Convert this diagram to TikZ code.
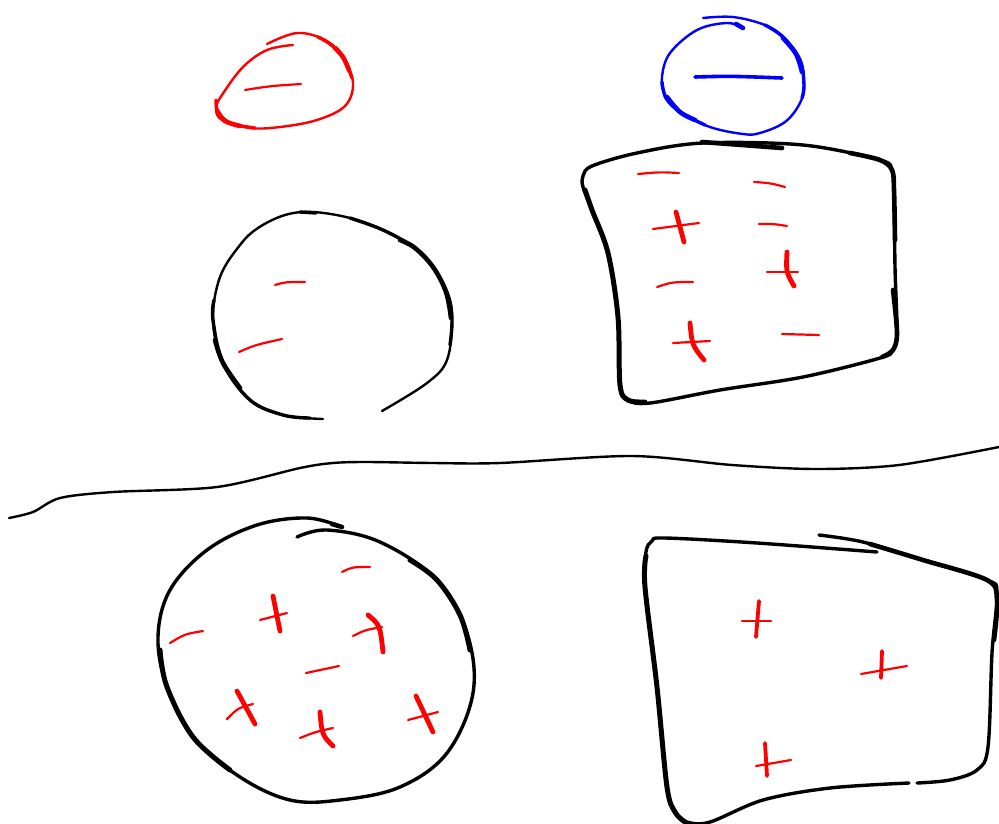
\documentclass[tikz,border=0pt]{standalone}
\begin{document}
\begin{tikzpicture}[x=1pt,y=-1pt,line cap=round,line join=round,
  pen/.style={line width=2.4pt},
  mid/.style={line width=3.4pt},
  heavy/.style={line width=4.6pt},
  ink/.style={black},
  redpen/.style={red,line width=2.2pt},
  redbar/.style={red,line width=4.8pt},
  bluepen/.style={blue}]
\useasboundingbox (0,0) rectangle (999,823);

% ---------- red small circle (top left) ----------
\draw[red,pen] plot[smooth,tension=0.6] coordinates {(267,44) (297,33) (325,40) (343,57) (353,83) (345,106) (317,120) (280,127) (250,128) (222,120) (216,108) (222,95) (243,67) (267,50) (293,45)};
\draw[red,mid] plot[smooth,tension=0.6] coordinates {(318,37) (330,44) (343,57) (352,78)};
\draw[red,heavy] plot[smooth,tension=0.6] coordinates {(335,48) (343,57) (349,70)};
\draw[red,mid] plot[smooth,tension=0.6] coordinates {(216,100) (218,112) (230,123) (255,128)};
\draw[red,heavy] plot[smooth,tension=0.6] coordinates {(218,112) (225,121) (240,126)};
\draw[redpen] (245,90) .. controls (270,86) .. (301,84);

% ---------- blue circle (top right) ----------
\draw[bluepen,pen] plot[smooth,tension=0.6] coordinates {(703,18) (733,17) (765,25) (783,37) (800,60) (804,85) (800,103) (785,122) (760,133) (743,134) (710,127) (680,112) (665,95) (662,77) (670,53) (697,30) (727,23) (743,28)};
\draw[blue,mid] plot[smooth,tension=0.6] coordinates {(765,25) (783,37) (800,60) (804,85) (802,98)};
\draw[blue,heavy] plot[smooth,tension=0.6] coordinates {(783,38) (796,54) (802,72)};
\draw[blue,mid] plot[smooth,tension=0.6] coordinates {(662,82) (666,98) (680,112) (705,125)};
\draw[blue,heavy] plot[smooth,tension=0.6] coordinates {(667,97) (680,112) (695,120)};
\draw[blue,heavy] (736,24) -- (743,28);
\draw[blue,line width=3.6pt] (695,77) .. controls (730,76) .. (782,78);

% ---------- black circle (top left) ----------
\draw[ink,pen] plot[smooth,tension=0.6] coordinates {(323,419) (283,415) (250,400) (223,363) (213,320) (220,277) (240,245) (258,228) (285,215) (313,212) (350,218) (383,230) (415,248) (433,267) (448,295) (452,320) (447,360) (427,383) (382,411)};
\draw[ink,mid] plot[smooth,tension=0.6] coordinates {(350,218) (383,230) (415,248) (433,267) (448,295) (452,320) (450,345)};
\draw[ink,heavy] plot[smooth,tension=0.6] coordinates {(400,240) (415,248) (433,267) (446,292) (451,318)};
\draw[ink,mid] plot[smooth,tension=0.6] coordinates {(214,300) (213,320) (223,363) (250,400) (283,415) (310,418)};
\draw[ink,heavy] plot[smooth,tension=0.6] coordinates {(215,340) (223,363) (240,388)};
\draw[ink,mid] (300,212) -- (316,213);

\draw[redpen] (275,285) .. controls (285,282) .. (305,282);
\draw[redpen] (239,352) .. controls (255,345) .. (282,339);

% ---------- black box (top right) ----------
\draw[ink,mid] plot[smooth cycle,tension=0.55] coordinates {(592,166) (637,153) (703,143) (803,145) (880,160) (892,170) (894,190) (895,267) (897,333) (893,350) (880,358) (803,377) (720,390) (650,403) (628,400) (620,385) (618,317) (608,253) (592,210) (583,187) (583,176)};
\draw[ink,line width=5pt] plot[smooth,tension=0.55] coordinates {(645,402) (628,400) (620,385) (618,317) (608,253) (592,210) (585,190)};
\draw[ink,heavy] plot[smooth,tension=0.55] coordinates {(850,153) (880,160) (892,170) (894,190) (895,240)};
\draw[ink,heavy] plot[smooth,tension=0.55] coordinates {(893,290) (897,333) (893,350) (882,357)};
\draw[ink,heavy] (702,142) -- (782,148);
% charges
\draw[redpen] (638,174) .. controls (660,172) .. (679,173);
\draw[redpen] (754,182) .. controls (770,183) .. (785,187);
\draw[redpen] (653,229) -- (699,223);
\draw[redbar] (676,212) -- (684,242);
\draw[redpen] (759,224) .. controls (775,224) .. (787,226);
\draw[redpen] (767,272) -- (798,272);
\draw[redbar] (787,252) .. controls (786,272) .. (794,286);
\draw[redpen] (657,287) .. controls (672,282) .. (693,282);
\draw[redpen] (673,343) -- (710,341);
\draw[redbar] (690,323) .. controls (692,345) .. (704,360);
\draw[redpen] (782,334) -- (819,335);

% ---------- dividing line ----------
\draw[ink,pen] plot[smooth,tension=0.5] coordinates {(9,518) (33,512) (60,498) (113,492) (217,487) (300,468) (333,463) (367,462) (433,463) (500,463) (632,456) (732,465) (816,469) (899,465) (999,447)};

% ---------- black circle (bottom left) ----------
\draw[ink,mid] plot[smooth,tension=0.6] coordinates {(297,537) (327,530) (380,542) (437,580) (467,633) (473,693) (447,753) (400,787) (340,800) (290,800) (240,777) (193,737) (167,687) (158,637) (170,590) (207,550) (257,525) (307,518) (342,527)};
\draw[ink,line width=5pt] plot[smooth,tension=0.6] coordinates {(410,560) (437,580) (460,615) (470,650)};
\draw[ink,line width=5pt] plot[smooth,tension=0.6] coordinates {(160,650) (167,687) (193,737) (230,770)};
\draw[ink,heavy] (332,524) -- (342,527);
% charges
\draw[redpen] (342,572) .. controls (352,567) .. (370,567);
\draw[redpen] (260,620) -- (287,613);
\draw[redbar] (273,596) -- (280,631);
\draw[redpen] (170,643) .. controls (185,634) .. (203,631);
\draw[redpen] (353,636) .. controls (365,630) .. (382,627);
\draw[redbar] (368,615) .. controls (380,625) .. (383,652);
\draw[redpen] (306,673) -- (339,666);
\draw[redbar] (237,691) -- (255,724);
\draw[redpen] (227,719) .. controls (238,708) .. (253,704);
\draw[redbar] (320,712) .. controls (322,735) .. (333,746);
\draw[redpen] (300,738) .. controls (315,732) .. (333,728);
\draw[redbar] (416,696) -- (433,732);
\draw[redpen] (408,720) -- (438,712);

% ---------- black box (bottom right) ----------
\draw[ink,mid] plot[smooth,tension=0.55] coordinates {(877,552) (757,543) (665,538) (652,541) (646,552) (645,587) (657,687) (667,787) (675,812) (687,822) (710,822) (763,800) (830,788) (909,783)};
\draw[ink,line width=5pt] plot[smooth,tension=0.55] coordinates {(646,556) (645,587) (657,687) (667,787) (675,812) (685,822)};
\draw[ink,mid] plot[smooth,tension=0.55] coordinates {(917,783) (950,780) (977,770) (988,747) (992,653) (997,593) (987,580) (923,560) (863,542) (819,535)};
\draw[ink,heavy] plot[smooth,tension=0.55] coordinates {(870,544) (923,560) (987,580) (997,600) (994,640)};
% charges
\draw[redpen] (742,621) -- (771,621);
\draw[red,line width=3.8pt] (759,601) -- (756,637);
\draw[redpen] (861,674) -- (907,666);
\draw[red,line width=3.8pt] (882,651) -- (881,678);
\draw[redpen] (756,766) -- (791,760);
\draw[red,line width=3.8pt] (765,743) -- (767,776);
\end{tikzpicture}
\end{document}
